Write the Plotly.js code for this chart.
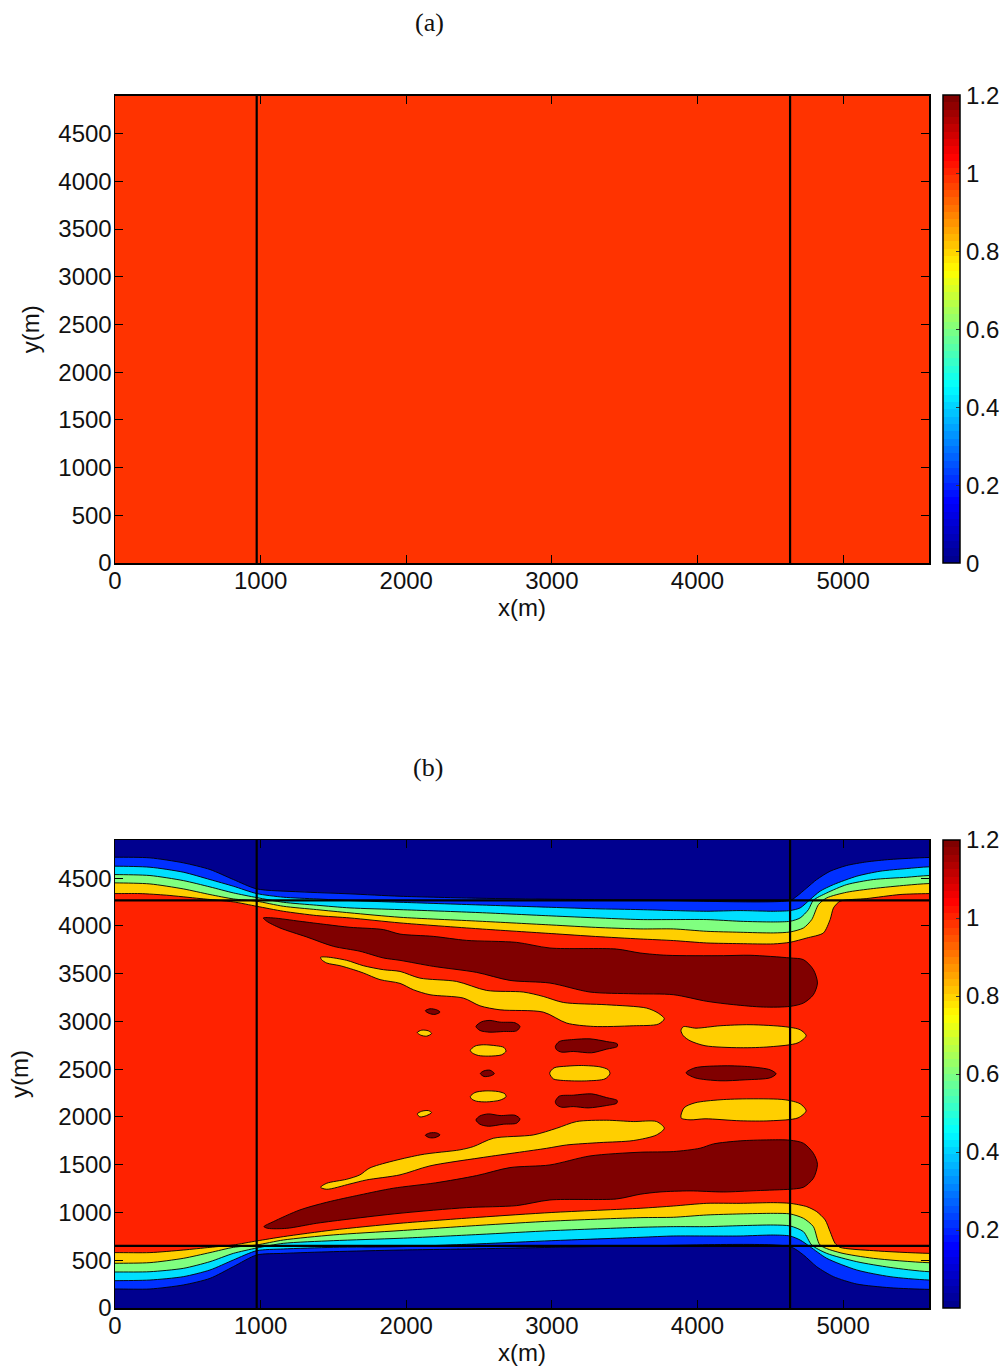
<!DOCTYPE html>
<html><head><meta charset="utf-8">
<script src="https://cdn.plot.ly/plotly-3.0.1.min.js"></script>
<style>html,body{margin:0;padding:0;background:#fff}</style></head>
<body><div id="chart" style="width:1005px;height:1367px"></div>
<script>
// Wall / well lines
const wellX = [973, 4636];
const wellY = [4267, 650];
const xMax = 5590, yMax = 4900;
const xTicks = [0,1000,2000,3000,4000,5000];
const yTicks = [0,500,1000,1500,2000,2500,3000,3500,4000,4500];
const cbTicksA = [0,0.2,0.4,0.6,0.8,1,1.2];
const cbTicksB = [0.2,0.4,0.6,0.8,1,1.2];
const fieldA = 0.985, fieldB = 1.0;

// Band colours
const cYellow='#FFCF00', cGreen='#80FF80', cCyan='#00DFFF', cBlue='#0030FF', cNavy='#00008F', cDark='#800000';

// Upper contour curves (m)
const t1x=[0,172,355,584,813,973,1156,1385,1614,1957,2500,3000,3300,3606,3835,4064,4293,4522,4636,4751,4865,4911,4934,4979,5163,5391,5590];
const t1y=[4339,4339,4322,4287,4252,4206,4154,4109,4084,4032,3970,3920,3890,3864,3847,3822,3815,3812,3829,3874,3927,4067,4189,4259,4287,4329,4339];
const t2x=[0,240,469,652,813,973,1156,1385,1614,1957,2500,3000,3300,3606,3835,4064,4293,4522,4636,4728,4785,4831,4888,5025,5208,5437,5590];
const t2y=[4451,4440,4388,4329,4283,4259,4206,4171,4137,4091,4050,4010,3985,3969,3969,3944,3934,3927,3937,3979,4067,4224,4294,4353,4392,4427,4444];
const t3x=[0,240,469,652,813,973,1156,1385,1614,1957,2500,3000,3300,3606,3835,4064,4293,4522,4636,4705,4762,4796,4888,5025,5208,5437,5590];
const t3y=[4538,4528,4475,4409,4346,4297,4248,4217,4189,4171,4140,4105,4085,4067,4067,4067,4049,4042,4049,4084,4171,4269,4346,4433,4486,4510,4528];
const t4x=[0,240,469,652,813,973,1156,1385,1614,1957,2500,3000,3300,3606,3835,4064,4293,4522,4636,4705,4773,4842,4934,5094,5254,5437,5590];
const t4y=[4626,4615,4563,4486,4416,4339,4301,4283,4266,4248,4220,4195,4180,4171,4161,4154,4161,4154,4161,4189,4276,4364,4433,4521,4573,4601,4619];
const t5x=[0,240,469,652,813,973,1270,1614,1957,2500,3000,3606,4636,4682,4751,4819,4911,5025,5163,5323,5590];
const t5y=[4720,4713,4661,4591,4486,4388,4357,4336,4311,4290,4280,4272,4267,4311,4399,4486,4573,4633,4671,4696,4717];

// Lower contour curves (m)
const b1x=[0,240,469,652,813,973,1156,1499,1957,2500,3000,3606,3835,4064,4293,4522,4636,4751,4819,4877,4911,4945,4979,5208,5590];
const b1y=[580,580,607,635,660,702,747,817,887,950,1000,1044,1068,1096,1096,1103,1096,1061,1009,922,799,677,635,600,572];
const b2x=[0,240,469,652,813,973,1156,1499,1957,2500,3000,3606,3835,4064,4293,4522,4636,4728,4796,4842,4979,5208,5590];
const b2y=[468,475,520,580,635,660,712,765,810,865,910,946,950,974,985,991,985,939,852,659,579,520,474];
const b3x=[0,240,469,652,813,973,1156,1499,1957,2500,3000,3606,3835,4064,4293,4522,4636,4728,4785,4888,5094,5323,5590];
const b3y=[377,380,415,485,572,628,677,705,730,770,810,845,852,852,862,869,859,799,659,572,485,425,380];
const b4x=[0,240,469,652,813,973,1156,1499,1957,2500,3000,3606,3835,4064,4293,4522,4636,4705,4773,4888,5094,5323,5590];
const b4y=[286,293,328,398,503,600,618,635,642,672,705,740,754,754,754,764,754,712,642,520,398,328,293];
const b5x=[0,240,469,652,813,973,1156,1499,1957,2500,3000,3606,4636,4728,4819,4934,5094,5323,5590];
const b5y=[199,199,241,310,433,555,572,590,607,620,635,650,642,555,432,328,251,212,195];

// High-value (dark red) regions (m)
const darkTopX=[1019,1087,1270,1454,1614,1843,1957,2186,2415,2758,2987,3445,3606,3789,4178,4361,4636,4728,4796,4824,4796,4728,4636,4453,4247,4064,3835,3559,3262,2987,2712,2483,2186,1957,1843,1682,1499,1316,1133,1042];
const darkTopY=[4084,4084,4049,4014,3986,3962,3915,3891,3849,3828,3769,3758,3717,3693,3689,3693,3665,3647,3543,3403,3280,3193,3158,3151,3176,3211,3280,3290,3308,3402,3430,3514,3577,3640,3665,3735,3787,3885,3979,4049];
const darkLowX=[1023,1087,1270,1454,1682,1911,2200,2483,2712,2987,3262,3606,3835,4018,4110,4293,4476,4636,4728,4796,4824,4796,4728,4682,4636,4407,4178,3949,3743,3606,3445,2987,2758,2415,1957,1614,1385,1179,1050];
const darkLowY=[852,904,1027,1107,1184,1254,1310,1386,1470,1498,1592,1631,1638,1673,1718,1750,1760,1757,1725,1620,1505,1358,1264,1250,1243,1229,1215,1226,1215,1191,1142,1131,1072,1051,992,932,887,834,834];
const dark1X=[2131,2163,2209,2232,2197,2158], dark1Y=[3112,3133,3122,3098,3074,3084];
const dark2X=[2479,2518,2575,2644,2747,2781,2758,2667,2575,2506], dark2Y=[2948,2997,3011,2993,2986,2948,2902,2895,2888,2906];
const dark3X=[2509,2534,2575,2605,2580,2534], dark3Y=[2455,2483,2490,2455,2431,2424];
const dark4X=[2479,2506,2564,2644,2747,2781,2758,2667,2564,2506], dark4Y=[1969,2011,2032,2015,2018,1980,1935,1924,1903,1924];
const dark5X=[2131,2163,2209,2232,2197,2158], dark5Y=[1809,1833,1833,1812,1784,1784];
const dark6X=[3024,3051,3147,3262,3376,3449,3449,3376,3273,3147,3067,3033], dark6Y=[2738,2790,2811,2818,2790,2766,2738,2710,2672,2686,2679,2703];
const dark7X=[3024,3051,3147,3273,3376,3449,3445,3376,3250,3147,3067,3033], dark7Y=[2162,2218,2228,2242,2203,2172,2144,2120,2095,2109,2102,2127];
const dark8X=[3922,3983,4189,4361,4499,4540,4499,4327,4155,3983], dark8Y=[2463,2515,2536,2526,2494,2452,2410,2389,2379,2410];

// Yellow regions (m)
const yelTopX=[1412,1454,1591,1705,1843,1957,2094,2346,2552,2804,2941,3079,3376,3651,3731,3772,3731,3559,3285,3102,2941,2644,2506,2392,2163,2049,1957,1820,1705,1637,1545,1454,1419];
const yelTopY=[3672,3675,3640,3584,3542,3524,3454,3419,3325,3308,3262,3199,3175,3140,3087,3028,2972,2955,2948,2983,3098,3122,3164,3245,3280,3332,3399,3438,3508,3543,3584,3612,3647];
const yelLowX=[1412,1454,1591,1682,1751,2095,2369,2461,2598,2873,3033,3170,3376,3559,3719,3772,3719,3559,3330,3102,2964,2507,2163,1957,1728,1614,1454];
const yelLowY=[1264,1306,1348,1394,1467,1603,1656,1690,1777,1812,1882,1952,1966,1952,1952,1882,1812,1753,1732,1707,1672,1572,1488,1394,1341,1299,1243];
const yel1X=[2076,2106,2152,2174,2140,2099], yel1Y=[2885,2909,2902,2874,2846,2857];
const yel2X=[2440,2472,2529,2621,2671,2685,2655,2564,2495,2456], yel2Y=[2696,2742,2756,2745,2728,2689,2651,2637,2644,2668];
const yel3X=[2440,2472,2541,2632,2678,2685,2644,2552,2483,2451], yel3Y=[2214,2256,2273,2266,2242,2211,2176,2158,2165,2186];
const yel4X=[2076,2106,2152,2174,2140,2094], yel4Y=[2032,2060,2067,2046,2015,2001];
const yel5X=[2985,3015,3102,3205,3330,3388,3399,3365,3239,3079,3010], yel5Y=[2459,2514,2532,2539,2525,2494,2452,2399,2378,2382,2399];
const yel6X=[3887,3903,3990,4155,4361,4602,4705,4746,4691,4499,4293,4052,3949,3903], yel6Y=[2905,2945,2930,2955,2966,2945,2913,2851,2777,2735,2725,2746,2798,2850];
const yel7X=[3887,3908,3983,4155,4361,4602,4705,4746,4691,4499,4293,4052,3949], yel7Y=[1991,2096,2148,2180,2190,2180,2138,2065,1991,1960,1960,1981,1970];

// MATLAB jet, 64 flat steps
const jetAnchors=[[0,[0,0,143]],[0.125,[0,0,255]],[0.375,[0,255,255]],[0.625,[255,255,0]],[0.875,[255,0,0]],[1,[128,0,0]]];
function jet(t){for(let i=1;i<jetAnchors.length;i++){if(t<=jetAnchors[i][0]){const a=jetAnchors[i-1],b=jetAnchors[i],f=(t-a[0])/(b[0]-a[0]);
  return 'rgb('+a[1].map((v,k)=>Math.round(v+(b[1][k]-v)*f)).join(',')+')';}}return 'rgb(128,0,0)';}
const jetScale=[];for(let i=0;i<64;i++){const c=jet(i/63);jetScale.push([i/64,c]);jetScale.push([(i+1)/64,c]);}

const H=1367,W=1005;
const font={family:'"Liberation Sans",Arial,sans-serif',size:24,color:'#111'};
function field(v,ax,ay,top,bot,ticks){return {type:'heatmap',x:[0,xMax],y:[0,yMax],z:[[v,v],[v,v]],xaxis:ax,yaxis:ay,zmin:0,zmax:1.2,colorscale:jetScale,hoverinfo:'skip',
  colorbar:{x:943/W,xanchor:'left',xpad:0,ypad:0,y:1-(top+bot)/2/H,yanchor:'middle',len:(bot-top)/H,lenmode:'fraction',thickness:17,thicknessmode:'pixels',
  outlinecolor:'#000',outlinewidth:1.5,tickmode:'array',tickvals:ticks,ticktext:ticks.map(String),ticks:'inside',ticklen:4,tickcolor:'#333',tickfont:font}};}
function band(x,y,color,up){const e=up?6500:-1600;return {type:'scatter',mode:'lines',xaxis:'x2',yaxis:'y2',hoverinfo:'skip',showlegend:false,
  x:x.concat([6300,6300,-700,-700,x[0]]),y:y.concat([y[y.length-1],e,e,y[0],y[0]]),fill:'toself',fillcolor:color,line:{color:'#000',width:0.9,shape:'spline',smoothing:0.7,simplify:false}};}
function blob(x,y,color){return {type:'scatter',mode:'lines',xaxis:'x2',yaxis:'y2',hoverinfo:'skip',showlegend:false,
  x:x.concat([x[0]]),y:y.concat([y[0]]),fill:'toself',fillcolor:color,line:{color:'#000',width:0.9,shape:'spline',smoothing:0.8,simplify:false}};}
function vline(xv,ax,ay){return {type:'scatter',mode:'lines',x:[xv,xv],y:[0,yMax],xaxis:ax,yaxis:ay,hoverinfo:'skip',showlegend:false,line:{color:'#000',width:2.2}};}
function hline(yv,ax,ay){return {type:'scatter',mode:'lines',x:[0,xMax],y:[yv,yv],xaxis:ax,yaxis:ay,hoverinfo:'skip',showlegend:false,line:{color:'#000',width:2.2}};}

const traces=[
 field(fieldA,'x','y',95.5,563,cbTicksA),
 vline(wellX[0],'x','y'),vline(wellX[1],'x','y'),
 field(fieldB,'x2','y2',840,1308,cbTicksB),
 band(t1x,t1y,cYellow,true),band(t2x,t2y,cGreen,true),band(t3x,t3y,cCyan,true),band(t4x,t4y,cBlue,true),band(t5x,t5y,cNavy,true),
 band(b1x,b1y,cYellow,false),band(b2x,b2y,cGreen,false),band(b3x,b3y,cCyan,false),band(b4x,b4y,cBlue,false),band(b5x,b5y,cNavy,false),
 blob(darkTopX,darkTopY,cDark),blob(darkLowX,darkLowY,cDark),blob(yelTopX,yelTopY,cYellow),blob(yelLowX,yelLowY,cYellow),
 blob(dark1X,dark1Y,cDark),blob(dark2X,dark2Y,cDark),blob(dark3X,dark3Y,cDark),blob(dark4X,dark4Y,cDark),blob(dark5X,dark5Y,cDark),blob(dark6X,dark6Y,cDark),blob(dark7X,dark7Y,cDark),blob(dark8X,dark8Y,cDark),
 blob(yel1X,yel1Y,cYellow),blob(yel2X,yel2Y,cYellow),blob(yel3X,yel3Y,cYellow),blob(yel4X,yel4Y,cYellow),blob(yel5X,yel5Y,cYellow),blob(yel6X,yel6Y,cYellow),blob(yel7X,yel7Y,cYellow),
 vline(wellX[0],'x2','y2'),vline(wellX[1],'x2','y2'),hline(wellY[0],'x2','y2'),hline(wellY[1],'x2','y2')
];

function xa(anchor,st){return {domain:[115/W,929/W],range:[0,xMax],anchor:anchor,showgrid:false,zeroline:false,showline:true,linecolor:'#000',linewidth:1.5,mirror:'ticks',
  ticks:'inside',ticklen:8,tickwidth:1,tickcolor:'#000',tickmode:'array',tickvals:xTicks,ticktext:xTicks.map(String),tickfont:font,ticklabelstandoff:-4,
  title:{text:'x(m)',font:font,standoff:st}};}
function ya(anchor,top,bot,st){return {domain:[1-bot/H,1-top/H],range:[0,yMax],anchor:anchor,showgrid:false,zeroline:false,showline:true,linecolor:'#000',linewidth:1.5,mirror:'ticks',
  ticks:'inside',ticklen:8,tickwidth:1,tickcolor:'#000',tickmode:'array',tickvals:yTicks,ticktext:yTicks.map(String),tickfont:font,ticklabelstandoff:-3,
  title:{text:'y(m)',font:font,standoff:st}};}

const layout={width:W,height:H,margin:{l:0,r:0,t:0,b:0},paper_bgcolor:'#fff',plot_bgcolor:'#fff',showlegend:false,
 xaxis:xa('y',6),yaxis:ya('x',95.5,563,12),xaxis2:xa('y2',2),yaxis2:ya('x2',840,1308,23),
 annotations:[
  {xref:'paper',yref:'paper',x:429/W,y:1-22/H,yanchor:'middle',text:'(a)',showarrow:false,font:{family:'"Liberation Serif",serif',size:26,color:'#111'}},
  {xref:'paper',yref:'paper',x:428/W,y:1-767/H,yanchor:'middle',text:'(b)',showarrow:false,font:{family:'"Liberation Serif",serif',size:26,color:'#111'}}
 ]};
Plotly.newPlot('chart',traces,layout,{displayModeBar:false,staticPlot:true});
</script></body></html>
